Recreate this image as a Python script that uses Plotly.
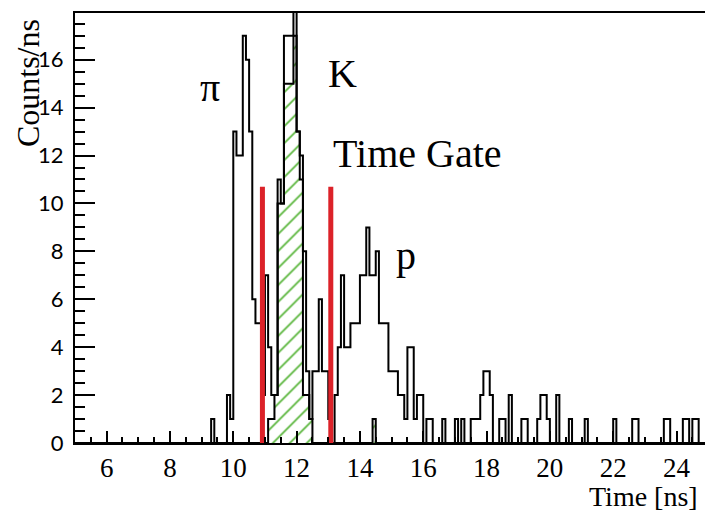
import numpy as np
import plotly.graph_objects as go

# Histogram definition: 0.1 ns bins between 5 and 25 ns
t_min = 5.0
t_max = 25.0
bin_w = 0.1

# All events, counts per bin (Counts/ns), one row per nanosecond
counts_all = (
    [0] * 10  # 5.x
    + [0] * 10  # 6.x
    + [0] * 10  # 7.x
    + [0] * 10  # 8.x
    + [0, 0, 0, 1, 0, 0, 0, 0, 2, 1]  # 9.x
    + [13, 12, 12, 17, 16, 13, 6, 5, 5, 2]  # 10.x
    + [7, 4, 2, 2, 11, 10, 17, 17, 17, 19]  # 11.x
    + [13, 12, 8, 3, 1, 3, 3, 6, 3, 3]  # 12.x
    + [1, 0, 2, 4, 7, 4, 4, 5, 5, 5]  # 13.x
    + [7, 7, 9, 7, 7, 8, 5, 5, 5, 3]  # 14.x
    + [3, 3, 2, 2, 1, 4, 4, 1, 2, 2]  # 15.x
    + [0, 1, 1, 0, 0, 0, 1, 0, 0, 0]  # 16.x
    + [1, 0, 1, 0, 0, 1, 1, 1, 2, 3]  # 17.x
    + [3, 2, 0, 0, 1, 1, 0, 2, 0, 0]  # 18.x
    + [0, 1, 1, 0, 0, 0, 1, 2, 2, 1]  # 19.x
    + [0, 0, 2, 0, 0, 0, 1, 0, 0, 0]  # 20.x
    + [0, 1, 0, 0, 0, 0, 0, 0, 0, 0]  # 21.x
    + [1, 0, 0, 0, 0, 0, 1, 1, 0, 0]  # 22.x
    + [0, 0, 0, 0, 0, 0, 1, 1, 0, 0]  # 23.x
    + [0, 0, 1, 1, 0, 1, 1, 0, 0, 0]  # 24.x
)

# Kaon-tagged events (hatched), bin lower edges and counts
kaon_t = [11.1, 11.2, 11.3, 11.4, 11.5, 11.6, 11.7, 11.8, 11.9, 12.0, 12.1, 12.2, 12.3, 12.4, 14.4]
kaon_counts = [1, 1, 2, 10, 10, 15, 15, 15, 17, 13, 11, 2, 2, 1, 1]

# Time gate edges (ns) and marker height
gate_t = [10.92, 13.08]
gate_top = 10.7

x_ticks = [6, 8, 10, 12, 14, 16, 18, 20, 22, 24]
y_ticks = [0, 2, 4, 6, 8, 10, 12, 14, 16]

n_bins = int(round((t_max - t_min) / bin_w))
edges = np.round(t_min + bin_w * np.arange(n_bins + 1), 3)

kaon_full = np.zeros(n_bins)
for t, c in zip(kaon_t, kaon_counts):
    kaon_full[int(round((t - t_min) / bin_w))] = c


def step_outline(values):
    xs = np.concatenate([[edges[0]], edges[:-1], [edges[-1]]])
    ys = np.concatenate([[0], np.asarray(values, float), [0]])
    return xs, ys


fig = go.Figure()

# hatched kaon histogram
fig.add_trace(go.Bar(
    x=np.array(kaon_t) + bin_w / 2,
    y=kaon_counts,
    width=bin_w,
    marker=dict(
        color="white",
        line=dict(width=0),
        pattern=dict(shape="/", fgcolor="#58b53a", bgcolor="white",
                     size=12, solidity=0.14, fillmode="replace"),
    ),
    hoverinfo="skip",
))

xa, ya = step_outline(counts_all)
fig.add_trace(go.Scatter(x=xa, y=ya, mode="lines", line=dict(color="black", width=2, shape="hv"),
                         hoverinfo="skip"))

xk, yk = step_outline(kaon_full)
fig.add_trace(go.Scatter(x=xk, y=yk, mode="lines", line=dict(color="black", width=2, shape="hv"),
                         hoverinfo="skip"))

# time gate markers
gx, gy = [], []
for g in gate_t:
    gx += [g, g, None]
    gy += [0, gate_top, None]
fig.add_trace(go.Scatter(x=gx, y=gy, mode="lines", line=dict(color="#dc2229", width=5),
                         hoverinfo="skip"))

serif = "Liberation Serif"

labels = [
    ("\u03c0", 9.26, 14.85),
    ("K", 13.44, 15.42),
    ("Time Gate", 15.82, 12.07),
    ("p", 15.46, 7.82),
]
for txt, lx, ly in labels:
    fig.add_annotation(x=lx, y=ly, xref="x", yref="y", text=txt, showarrow=False,
                       font=dict(family=serif, size=40, color="black"),
                       xanchor="center", yanchor="middle")

fig.add_annotation(x=-0.0746, y=0.837, xref="paper", yref="paper", text="Counts/ns",
                   textangle=-90, showarrow=False,
                   font=dict(family=serif, size=32, color="black"),
                   xanchor="center", yanchor="middle")
fig.add_annotation(x=0.992, y=-0.1244, xref="paper", yref="paper", text="Time [ns]",
                   showarrow=False, font=dict(family=serif, size=28, color="black"),
                   xanchor="right", yanchor="middle")

fig.update_layout(
    width=705, height=513,
    margin=dict(l=75, r=0, t=13, b=70),
    plot_bgcolor="white", paper_bgcolor="white",
    showlegend=False, barmode="overlay", bargap=0,
    xaxis=dict(
        range=[t_min, 24.9], tickvals=x_ticks, ticks="inside", ticklen=12, tickwidth=1.5,
        tickcolor="black", showline=True, linewidth=2, linecolor="black", mirror=True,
        showgrid=False, zeroline=False, ticklabelstandoff=0,
        tickfont=dict(family=serif, size=27, color="black"),
        minor=dict(dtick=0.5, tick0=0, ticks="inside", ticklen=6, tickwidth=1.5,
                   tickcolor="black", showgrid=False),
    ),
    yaxis=dict(
        range=[0, 17.95], tickvals=y_ticks, ticks="inside", ticklen=20, tickwidth=1.5,
        tickcolor="black", showline=True, linewidth=2, linecolor="black", mirror=False,
        showgrid=False, zeroline=False, ticklabelstandoff=5,
        tickfont=dict(family="Lato", size=22, color="black"),
        minor=dict(dtick=0.5, tick0=0, ticks="inside", ticklen=10, tickwidth=1.5,
                   tickcolor="black", showgrid=False),
    ),
)

fig.write_html("out.html")
